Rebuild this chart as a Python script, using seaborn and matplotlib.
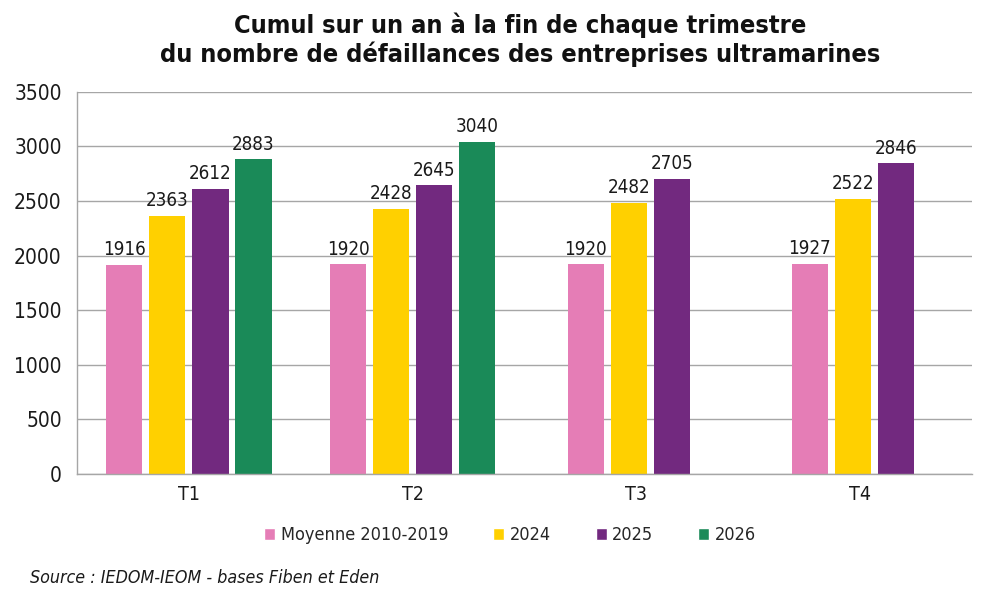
import matplotlib
matplotlib.use("Agg")
import matplotlib.pyplot as plt
import seaborn as sns
import pandas as pd
import numpy as np
from matplotlib.patches import Patch

categories = ["T1", "T2", "T3", "T4"]
series = ["Moyenne 2010-2019", "2024", "2025", "2026"]
moyenne = [1916, 1920, 1920, 1927]
v2024 = [2363, 2428, 2482, 2522]
v2025 = [2612, 2645, 2705, 2846]
v2026 = [2883, 3040, None, None]
colors = ["#E57DB6", "#FFD000", "#72297F", "#1A8A58"]
title = "Cumul sur un an à la fin de chaque trimestre\ndu nombre de défaillances des entreprises ultramarines"
source = "Source : IEDOM-IEOM - bases Fiben et Eden"

rows = []
for s, vals in zip(series, [moyenne, v2024, v2025, v2026]):
    for c, v in zip(categories, vals):
        if v is not None:
            rows.append({"Trimestre": c, "Série": s, "Valeur": v})
df = pd.DataFrame(rows)

sns.set_theme(style="white")
plt.rcParams["font.family"] = ["DejaVu Sans"]
plt.rcParams["font.stretch"] = "condensed"

fig = plt.figure(figsize=(10, 6), dpi=100)
ax = fig.add_axes([0.077, 0.21, 0.895, 0.637])

width = 0.77
sns.barplot(data=df, x="Trimestre", y="Valeur", hue="Série", order=categories,
            hue_order=series, palette=colors, width=width, gap=0.16,
            saturation=1, linewidth=0, edgecolor="none", ax=ax, legend=False)

# shift bars in groups with fewer series
counts = df.groupby("Trimestre")["Série"].count()
slot = width / len(series)
for cont in ax.containers:
    for bar in cont:
        xc = bar.get_x() + bar.get_width() / 2
        cat = categories[int(round(xc))]
        if counts[cat] < len(series):
            bar.set_x(bar.get_x() + 0.33 * slot * (len(series) - counts[cat]))
    ax.bar_label(cont, fmt="%d", padding=4, fontsize=13.5, color="#1a1a1a")

ax.set_ylim(0, 3500)
ax.set_yticks(np.arange(0, 3501, 500))
ax.set_xlim(-0.5, len(categories) - 0.5)
ax.grid(axis="y", color="#A6A6A6", linewidth=1)
ax.set_axisbelow(True)
for sp in ["top", "right"]:
    ax.spines[sp].set_visible(False)
for sp in ["left", "bottom"]:
    ax.spines[sp].set_color("#A6A6A6")
    ax.spines[sp].set_linewidth(1)
ax.set_xlabel("")
ax.set_ylabel("")
ax.tick_params(axis="x", which="major", length=0, labelsize=14, pad=8, colors="#1a1a1a")
ax.set_xticks(np.arange(-0.5, len(categories), 1), minor=True)
ax.tick_params(axis="x", which="minor", length=6, color="#A6A6A6", width=1, direction="out")
ax.tick_params(axis="y", length=0, labelsize=15, pad=11, colors="#1a1a1a")

fig.text(0.52, 0.98, title, ha="center", va="top", fontsize=18.2, fontweight="bold",
         linespacing=1.2, color="#111111")

handles = [Patch(facecolor=c, label=s) for c, s in zip(colors, series)]
fig.legend(handles=handles, loc="center", bbox_to_anchor=(0.51, 0.108), ncol=4,
           frameon=False, fontsize=13, handlelength=0.6, handleheight=0.6,
           handletextpad=0.3, columnspacing=2.5)

fig.text(0.03, 0.037, source, ha="left", va="center", fontsize=12.8, style="italic",
         color="#1a1a1a")

fig.savefig("out.png", dpi=100)
